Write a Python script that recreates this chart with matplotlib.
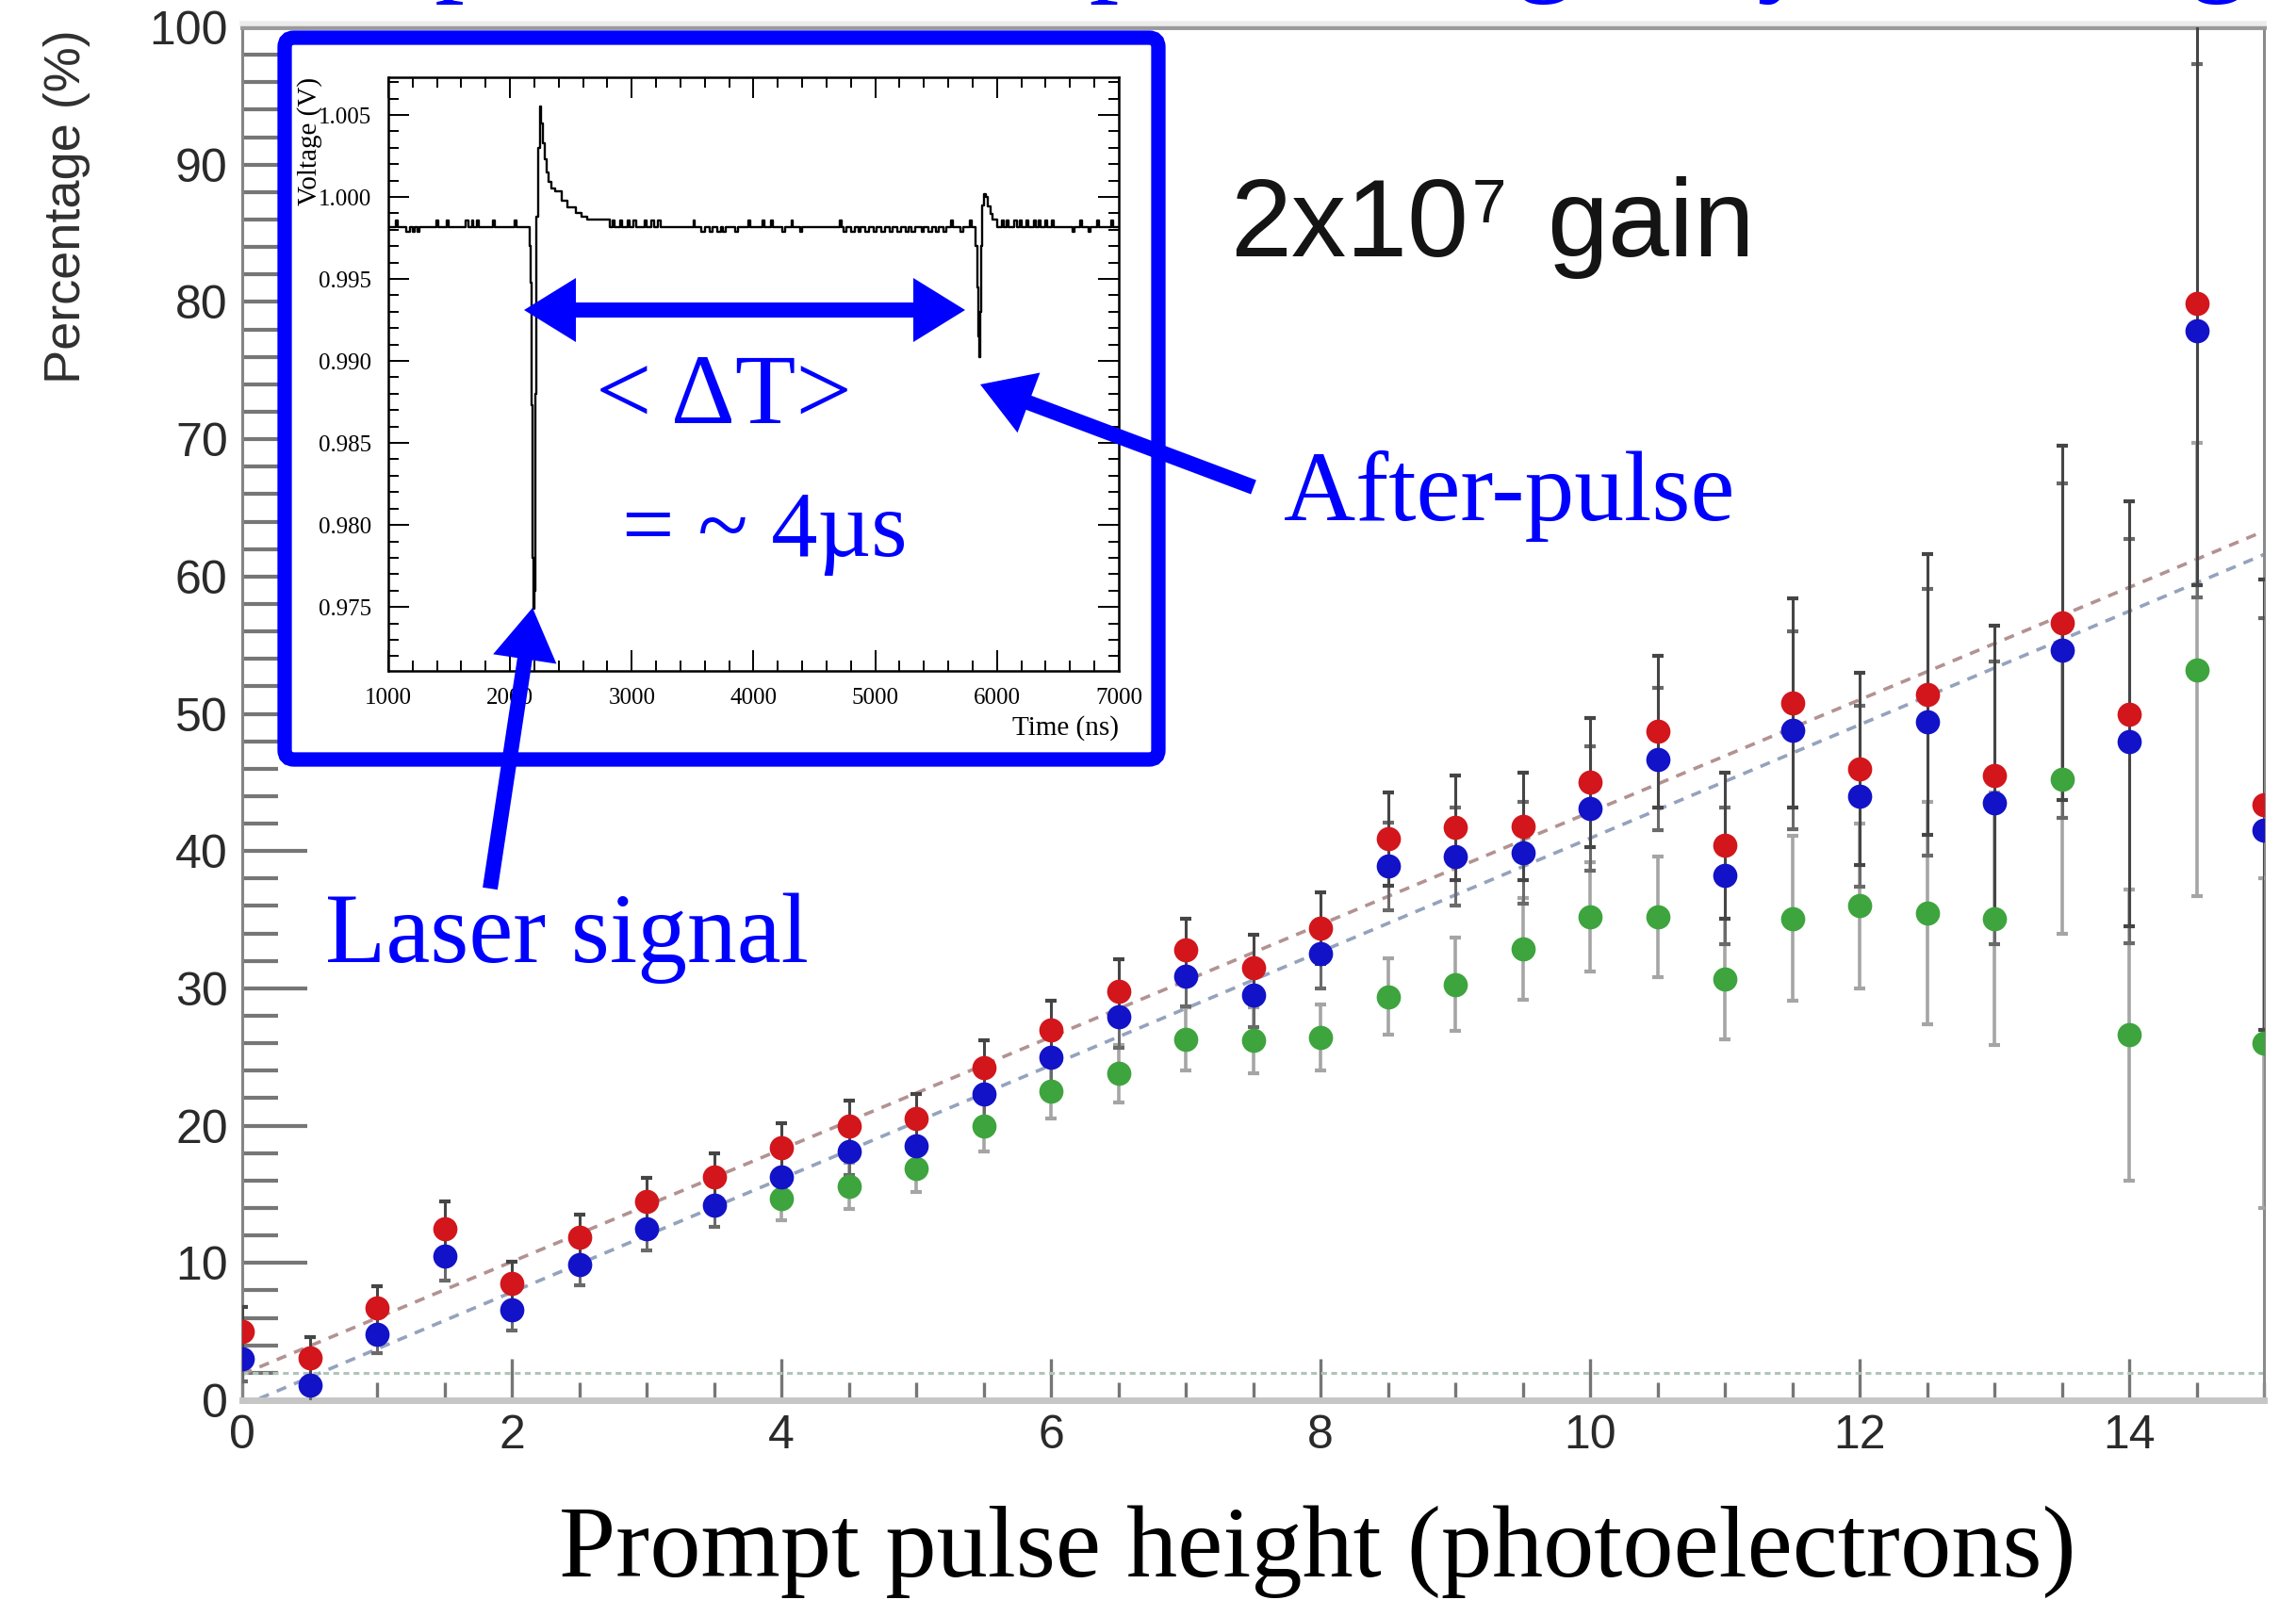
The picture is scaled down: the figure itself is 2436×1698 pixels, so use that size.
#!/usr/bin/env python3
import numpy as np
import matplotlib.pyplot as plt
from matplotlib.patches import FancyArrow, FancyBboxPatch

SANS = ['Liberation Sans', 'DejaVu Sans']
SERIF = ['Liberation Serif', 'DejaVu Serif']
BLUE = '#0000ff'

# after-pulse percentage vs prompt pulse height (photoelectrons)
pe = [0.0, 0.5, 1.0, 1.5, 2.0, 2.5, 3.0, 3.5, 4.0, 4.5, 5.0, 5.5, 6.0, 6.5, 7.0, 7.5,
      8.0, 8.5, 9.0, 9.5, 10.0, 10.5, 11.0, 11.5, 12.0, 12.5, 13.0, 13.5, 14.0, 14.5, 15.0]
pct_red = [5.0, 3.1, 6.7, 12.5, 8.5, 11.9, 14.5, 16.3, 18.4, 20.0, 20.5, 24.2, 27.0, 29.8, 32.8, 31.5,
           34.4, 40.9, 41.7, 41.8, 45.0, 48.7, 40.4, 50.8, 46.0, 51.4, 45.5, 56.6, 50.0, 79.9, 43.4]
err_red = [1.8, 1.5, 1.6, 2.0, 1.6, 1.6, 1.7, 1.7, 1.8, 1.8, 1.8, 2.0, 2.1, 2.3, 2.3, 2.4,
           2.6, 3.4, 3.8, 3.9, 4.7, 5.5, 5.3, 7.6, 7.0, 10.2, 10.9, 12.9, 15.5, 20.5, 16.4]
pct_blue = [3.0, 1.1, 4.8, 10.5, 6.6, 9.9, 12.5, 14.2, 16.3, 18.1, 18.5, 22.3, 25.0, 27.9, 30.9, 29.5,
            32.5, 38.9, 39.6, 39.9, 43.1, 46.7, 38.2, 48.8, 44.0, 49.4, 43.5, 54.6, 48.0, 77.9, 41.5]
err_blue = [1.6, 1.4, 1.4, 1.8, 1.5, 1.5, 1.6, 1.6, 1.7, 1.7, 1.7, 1.9, 2.0, 2.2, 2.2, 2.3,
            2.5, 3.2, 3.6, 3.7, 4.5, 5.2, 5.0, 7.2, 6.6, 9.7, 10.3, 12.2, 14.7, 19.4, 15.5]
pe_green = [4.0, 4.5, 5.0, 5.5, 6.0, 6.5, 7.0, 7.5, 8.0, 8.5, 9.0, 9.5,
            10.0, 10.5, 11.0, 11.5, 12.0, 12.5, 13.0, 13.5, 14.0, 14.5, 15.0]
pct_green = [14.7, 15.6, 16.9, 20.0, 22.5, 23.8, 26.3, 26.2, 26.4, 29.4, 30.3, 32.9,
             35.2, 35.2, 30.7, 35.1, 36.0, 35.5, 35.1, 45.2, 26.6, 53.2, 26.0]
err_green = [1.6, 1.7, 1.7, 1.9, 2.0, 2.1, 2.3, 2.4, 2.4, 2.8, 3.4, 3.7,
             4.0, 4.4, 4.4, 6.0, 6.0, 8.1, 9.2, 11.2, 10.6, 16.5, 12.0]

# straight-line fits (end points at 0 and 15 p.e.) and the low reference level
fit_x = [0.0, 15.0]
fit_red = [1.9, 63.3]
fit_blue = [-0.4, 61.6]
ref_y = [2.0, 2.0]

# scope trace: (time [ns], level [V]) held until the next entry
B, U, D = 0.99817, 0.99857, 0.99785
trace = [
    (1000, B), (1065, U), (1080, B), (1150, D), (1175, B), (1200, D), (1215, B),
    (1240, D), (1255, B), (1395, U), (1410, B), (1480, U), (1495, B), (1635, U),
    (1660, B), (1690, U), (1700, B), (1725, U), (1745, B), (1860, U), (1875, B),
    (2035, U), (2050, B),
    # laser pulse
    (2160, 0.99700), (2168, 0.99480), (2176, 0.98730), (2184, 0.97800),
    (2192, 0.97491), (2200, 0.97600), (2208, 0.98800), (2216, 0.99880),
    (2228, 1.00300), (2244, 1.00551), (2256, 1.00450), (2268, 1.00330),
    (2284, 1.00230), (2300, 1.00150), (2318, 1.00090), (2340, 1.00050),
    (2374, 1.00036), (2421, 0.99979), (2468, 0.99936), (2539, 0.99902),
    (2587, 0.99879), (2634, 0.99865), (2823, B),
    (2845, U), (2860, B), (2905, U), (2920, B), (2970, U), (2985, B), (3010, U),
    (3040, B), (3105, U), (3120, B), (3160, U), (3180, B), (3215, U), (3240, B),
    (3505, U), (3520, B), (3570, D), (3600, B), (3640, D), (3660, B), (3700, D),
    (3730, B), (3750, D), (3770, B), (3850, D), (3870, B), (3955, U), (3970, B),
    (4075, U), (4090, B), (4145, U), (4160, B), (4240, D), (4260, B), (4310, U),
    (4325, B), (4380, D), (4400, B), (4710, U), (4725, B), (4740, D), (4760, B),
    (4800, D), (4830, B), (4860, D), (4880, B), (4920, D), (4950, B), (4990, D),
    (5010, B), (5050, D), (5080, B), (5120, D), (5140, B), (5180, D), (5210, B),
    (5250, D), (5270, B), (5300, D), (5330, B), (5380, D), (5400, B), (5440, D),
    (5470, B), (5500, D), (5520, B), (5560, D), (5580, B), (5620, U), (5640, B),
    (5700, D), (5720, B), (5775, U), (5790, B),
    # after-pulse
    (5825, 0.99700), (5835, 0.99450), (5845, 0.99150), (5855, 0.99021),
    (5865, 0.99300), (5873, 0.99700), (5880, 0.99950), (5890, 1.00017),
    (5910, 1.00000), (5925, 0.99940), (5945, 0.99895), (5965, 0.99865), (6000, B),
    (6040, U), (6055, B), (6080, U), (6095, B), (6140, U), (6160, B), (6190, U),
    (6205, B), (6240, U), (6260, B), (6300, U), (6315, B), (6340, U), (6355, B),
    (6400, U), (6415, B), (6450, U), (6465, B), (6620, D), (6640, B), (6680, U),
    (6695, B), (6750, D), (6770, B), (6820, U), (6835, B), (6940, U), (6955, B),
    (7000, B),
]
trace_t, trace_v = zip(*trace)

plt.rcParams['font.family'] = SANS

W, H = 2436, 1698
fig = plt.figure(figsize=(W / 100, H / 100), dpi=100)


def px_axes(x0, y0, x1, y1):
    # axes placed by pixel corners, y measured from the top
    return fig.add_axes([x0 / W, 1 - y1 / H, (x1 - x0) / W, (y1 - y0) / H])


def overlay(z):
    ov = fig.add_axes([0, 0, 1, 1])
    ov.set_xlim(0, W)
    ov.set_ylim(H, 0)
    ov.axis('off')
    ov.set_zorder(z)
    return ov


def draw_main(ax):
    ax.set_zorder(1)
    ax.plot(fit_x, fit_red, ls=(0, (3, 2.5)), color='#b39292', lw=2.6, zorder=2)
    ax.plot(fit_x, fit_blue, ls=(0, (3, 2.5)), color='#94a3bd', lw=2.6, zorder=2)
    ax.plot(fit_x, ref_y, ls=(0, (2, 1.5)), color='#b0c4b8', lw=2.2, zorder=2)

    ax.errorbar(pe_green, pct_green, yerr=err_green, fmt='none', ecolor='#a5a5a5',
                elinewidth=2.6, capsize=4, capthick=3, zorder=3)
    ax.errorbar(pe, pct_blue, yerr=err_blue, fmt='none', ecolor='#6a6a6a',
                elinewidth=2.2, capsize=4, capthick=3, zorder=3)
    ax.errorbar(pe, pct_red, yerr=err_red, fmt='none', ecolor='#454545',
                elinewidth=2.2, capsize=4, capthick=3, zorder=3)

    ax.plot(pe_green, pct_green, 'o', ms=18.5, color='#3ea43e', mec='none', zorder=4)
    ax.plot(pe, pct_blue, 'o', ms=18.5, color='#1212c8', mec='none', zorder=4)
    ax.plot(pe, pct_red, 'o', ms=18.5, color='#d2161c', mec='none', zorder=4)

    ax.set_xlim(0, 15)
    ax.set_ylim(0, 100)
    ax.set_xticks(np.arange(0, 15, 2))
    ax.set_xticks(np.arange(0, 15.01, 0.5), minor=True)
    ax.set_yticks(np.arange(0, 101, 10))
    ax.set_yticks(np.arange(0, 101, 2), minor=True)
    ax.tick_params(which='both', direction='in', color='#767676', labelcolor='#2a2a2a')
    ax.tick_params(axis='y', which='major', length=50, width=3, labelsize=36, pad=11)
    ax.tick_params(axis='y', which='minor', length=27, width=3)
    ax.tick_params(axis='x', which='major', length=32, width=2.4, labelsize=36, pad=11)
    ax.tick_params(axis='x', which='minor', length=14, width=2.4)

    ax.spines['top'].set_color('#9a9a9a')
    ax.spines['top'].set_linewidth(3.5)
    ax.spines['bottom'].set_color('#c6c6c6')
    ax.spines['bottom'].set_linewidth(5)
    ax.spines['left'].set_color('#858585')
    ax.spines['left'].set_linewidth(2.2)
    ax.spines['right'].set_color('#8a8a8a')
    ax.spines['right'].set_linewidth(2.2)


def draw_inset(ins):
    ins.set_zorder(3)
    ins.plot(trace_t, trace_v, drawstyle='steps-post', color='black', lw=1.7)
    ins.set_xlim(1000, 7000)
    ins.set_ylim(0.9711, 1.0073)
    ins.set_xticks(np.arange(1000, 7001, 1000))
    ins.set_xticks(np.arange(1000, 7001, 200), minor=True)
    ins.set_yticks(np.arange(0.975, 1.0051, 0.005))
    ins.set_yticks(np.arange(0.972, 1.0071, 0.001), minor=True)
    ins.yaxis.set_major_formatter(plt.FormatStrFormatter('%.3f'))
    ins.tick_params(which='both', direction='in', top=True, right=True,
                    color='black', width=1.4, labelsize=18, labelfontfamily=SERIF)
    ins.tick_params(which='major', length=16, pad=13)
    ins.tick_params(which='minor', length=8)
    for sp in ins.spines.values():
        sp.set_linewidth(1.8)
    ins.text(1.0, -(780 - 712) / 630, 'Time (ns)', transform=ins.transAxes,
             ha='right', va='baseline', fontsize=21, family=SERIF)
    ins.text(-(412 - 329) / 775, 1.0, 'Voltage (V)', transform=ins.transAxes,
             rotation=90, ha='center', va='top', fontsize=21, family=SERIF)


def arrow(ov, x0, y0, x1, y1):
    ov.add_patch(FancyArrow(x0, y0, x1 - x0, y1 - y0, width=16, head_width=68,
                            head_length=55, length_includes_head=True,
                            fc=BLUE, ec=BLUE, lw=0))


ax = px_axes(257, 29, 2402, 1486)
draw_main(ax)

ov_lo = overlay(2)
ov_lo.plot([257, 2402], [25, 25], color='#ececec', lw=4)
ov_lo.add_patch(FancyBboxPatch((302, 40), 927, 766, boxstyle='round,pad=0,rounding_size=10',
                               lw=11, ec=BLUE, fc='white'))

ins = px_axes(412, 82, 1187, 712)
draw_inset(ins)

ov = overlay(4)
arrow(ov, 790, 329, 556, 329)
arrow(ov, 790, 329, 1024, 329)
arrow(ov, 1330, 517, 1040, 408)
arrow(ov, 520, 943, 565, 645)
ov.text(632, 449, '< \u0394T>', fontsize=76, family=SERIF, color=BLUE, va='baseline')
ov.text(660, 590, '= ~ 4\u00b5s', fontsize=71, family=SERIF, color=BLUE, va='baseline')
ov.text(1362, 552, 'After-pulse', fontsize=76, family=SERIF, color=BLUE, va='baseline')
ov.text(345, 1021, 'Laser signal', fontsize=76, family=SERIF, color=BLUE, va='baseline')
# slide heading, mostly above the top edge
ov.text(155, -22, "After-pulse rate vs. pulse height by PMT's gain", fontsize=91,
        family=SERIF, color=BLUE, va='baseline', clip_on=False)

# gain label with a small superscript
ov.text(1305, 272, '2x10', fontsize=84, color='#141414', va='baseline')
ov.text(1562, 236, '7', fontsize=47, color='#141414', va='baseline')
ov.text(1641, 272, 'gain', fontsize=84, color='#141414', va='baseline')

fig.text(71 / W, 1 - 31 / H, 'Percentage (%)', rotation=90, ha='center', va='top',
         fontsize=39, color='#303030')
fig.text(1398 / W, 1 - 1673 / H, 'Prompt pulse height (photoelectrons)', ha='center',
         va='baseline', fontsize=78, family=SERIF)

fig.savefig('out.png', dpi=100)
